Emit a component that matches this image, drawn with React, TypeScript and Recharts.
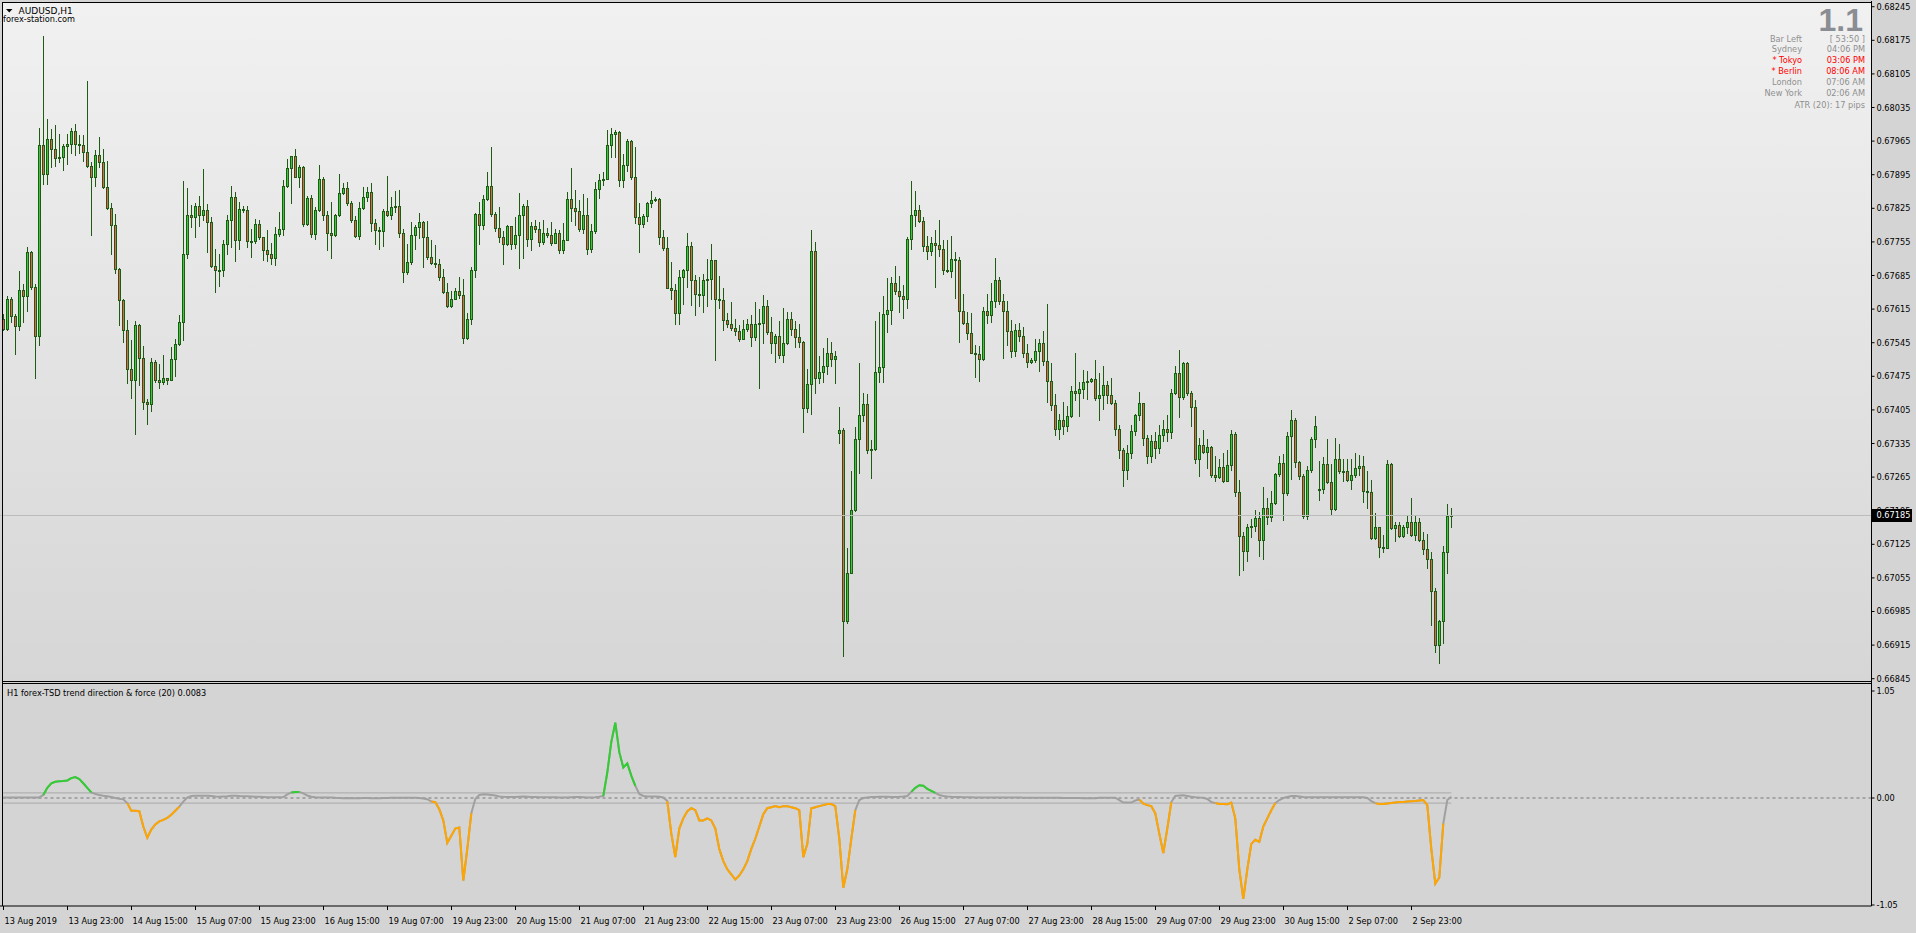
import React from 'react';
import { ComposedChart, Bar, Line, XAxis, YAxis, ReferenceLine } from 'recharts';

// ---------- DATA (prices in points, 1 point = 0.00001) ----------
const firstOpenPt = 67595;
const gapOpenPts: Record<number, number> = { 209: 67357, 329: 67239 };

const closePts = [
  67574, 67637, 67600, 67579, 67654, 67643, 67734, 67661, 67560, 67957,
  67897, 67970, 67949, 67930, 67932, 67954, 67959, 67987, 67959, 67957,
  67942, 67913, 67891, 67936, 67921, 67869, 67826, 67791, 67699, 67633,
  67572, 67491, 67468, 67581, 67514, 67421, 67418, 67505, 67468, 67464,
  67471, 67468, 67512, 67543, 67589, 67730, 67811, 67806, 67829, 67811,
  67822, 67797, 67705, 67697, 67696, 67751, 67801, 67848, 67759, 67824,
  67822, 67757, 67757, 67793, 67765, 67738, 67730, 67722, 67772, 67782,
  67872, 67909, 67933, 67891, 67911, 67793, 67847, 67772, 67822, 67886,
  67811, 67773, 67770, 67811, 67856, 67868, 67836, 67800, 67767, 67825,
  67848, 67859, 67795, 67780, 67777, 67819, 67811, 67827, 67829, 67774,
  67693, 67714, 67769, 67786, 67797, 67765, 67724, 67712, 67708, 67682,
  67650, 67622, 67637, 67652, 67645, 67554, 67595, 67697, 67813, 67791,
  67845, 67872, 67814, 67783, 67765, 67751, 67788, 67751, 67769, 67812,
  67829, 67762, 67789, 67782, 67754, 67774, 67770, 67752, 67774, 67739,
  67760, 67845, 67826, 67820, 67781, 67812, 67741, 67777, 67866, 67883,
  67887, 67956, 67979, 67983, 67885, 67916, 67966, 67890, 67806, 67793,
  67808, 67837, 67842, 67844, 67766, 67743, 67660, 67654, 67606, 67682,
  67696, 67747, 67676, 67647, 67645, 67675, 67677, 67717, 67637, 67633,
  67593, 67584, 67576, 67570, 67553, 67574, 67583, 67557, 67585, 67587,
  67621, 67567, 67545, 67560, 67520, 67545, 67595, 67574, 67556, 67547,
  67408, 67458, 67737, 67472, 67485, 67497, 67524, 67512, 67518, 67363,
  66966, 67066, 67196, 67345, 67395, 67418, 67322, 67324, 67485, 67495,
  67604, 67614, 67670, 67653, 67642, 67637, 67762, 67812, 67822, 67798,
  67747, 67736, 67753, 67749, 67741, 67697, 67695, 67720, 67718, 67611,
  67586, 67566, 67524, 67522, 67511, 67611, 67603, 67632, 67676, 67632,
  67611, 67570, 67528, 67572, 67559, 67524, 67505, 67509, 67528, 67545,
  67507, 67466, 67416, 67366, 67385, 67372, 67393, 67445, 67441, 67449,
  67464, 67466, 67470, 67430, 67437, 67457, 67437, 67420, 67366, 67321,
  67279, 67316, 67362, 67395, 67420, 67346, 67310, 67341, 67325, 67352,
  67366, 67358, 67441, 67482, 67432, 67502, 67441, 67411, 67302, 67331,
  67318, 67328, 67270, 67265, 67287, 67256, 67290, 67354, 67234, 67143,
  67111, 67160, 67164, 67179, 67134, 67201, 67182, 67212, 67272, 67295,
  67232, 67351, 67385, 67297, 67267, 67184, 67279, 67344, 67372, 67240,
  67293, 67255, 67198, 67302, 67278, 67277, 67260, 67270, 67283, 67289,
  67236, 67234, 67138, 67160, 67120, 67118, 67293, 67158, 67166, 67143,
  67162, 67172, 67145, 67172, 67133, 67116, 67095, 67027, 66916, 66965,
  67108, 67183, 67185,
];

const highPts = [
  67605, 67643, 67641, 67605, 67695, 67668, 67744, 67737, 67668, 67992,
  68183, 68011, 67990, 67999, 67979, 67959, 67980, 67992, 68001, 67977,
  67977, 68091, 67921, 67947, 67974, 67949, 67924, 67836, 67813, 67700,
  67636, 67593, 67550, 67591, 67584, 67539, 67428, 67513, 67509, 67501,
  67520, 67472, 67537, 67553, 67602, 67881, 67867, 67831, 67836, 67850,
  67906, 67833, 67806, 67741, 67730, 67759, 67811, 67872, 67859, 67838,
  67829, 67829, 67782, 67803, 67801, 67765, 67780, 67752, 67786, 67817,
  67883, 67928, 67935, 67949, 67916, 67914, 67850, 67852, 67827, 67916,
  67890, 67819, 67839, 67813, 67897, 67878, 67879, 67841, 67808, 67838,
  67869, 67869, 67878, 67803, 67786, 67824, 67893, 67848, 67862, 67863,
  67781, 67750, 67797, 67790, 67816, 67798, 67798, 67758, 67748, 67720,
  67698, 67670, 67652, 67659, 67681, 67677, 67606, 67703, 67815, 67838,
  67852, 67901, 67952, 67817, 67828, 67778, 67790, 67788, 67807, 67856,
  67833, 67842, 67797, 67800, 67797, 67800, 67783, 67796, 67781, 67779,
  67794, 67858, 67908, 67863, 67842, 67854, 67846, 67793, 67879, 67896,
  67901, 67988, 67993, 67989, 67986, 67938, 67969, 67967, 67953, 67836,
  67814, 67838, 67861, 67849, 67846, 67780, 67765, 67714, 67667, 67696,
  67698, 67773, 67755, 67687, 67682, 67688, 67719, 67750, 67717, 67683,
  67658, 67606, 67630, 67594, 67581, 67592, 67595, 67602, 67630, 67615,
  67644, 67635, 67598, 67564, 67590, 67617, 67608, 67610, 67590, 67585,
  67549, 67490, 67779, 67755, 67517, 67535, 67555, 67546, 67527, 67411,
  67368, 67118, 67277, 67370, 67503, 67440, 67438, 67343, 67590, 67610,
  67642, 67680, 67682, 67704, 67683, 67665, 67765, 67881, 67862, 67831,
  67807, 67768, 67766, 67779, 67800, 67759, 67759, 67768, 67733, 67723,
  67647, 67610, 67607, 67541, 67539, 67620, 67647, 67669, 67722, 67682,
  67647, 67631, 67593, 67584, 67586, 67577, 67543, 67514, 67552, 67552,
  67570, 67625, 67503, 67439, 67396, 67421, 67414, 67454, 67523, 67463,
  67489, 67487, 67472, 67508, 67482, 67496, 67466, 67471, 67425, 67373,
  67325, 67331, 67373, 67397, 67443, 67420, 67352, 67352, 67358, 67373,
  67383, 67394, 67448, 67496, 67529, 67505, 67505, 67444, 67425, 67347,
  67363, 67344, 67329, 67308, 67302, 67316, 67321, 67363, 67360, 67260,
  67150, 67168, 67177, 67196, 67192, 67244, 67221, 67236, 67274, 67308,
  67314, 67358, 67404, 67389, 67299, 67272, 67288, 67348, 67392, 67298,
  67306, 67344, 67292, 67347, 67333, 67302, 67302, 67302, 67316, 67312,
  67308, 67277, 67260, 67190, 67161, 67144, 67300, 67295, 67171, 67172,
  67165, 67186, 67221, 67184, 67179, 67151, 67146, 67109, 67034, 66967,
  67122, 67210, 67200,
];

const lowPts = [
  67572, 67572, 67588, 67522, 67572, 67588, 67611, 67657, 67472, 67541,
  67876, 67876, 67911, 67913, 67921, 67905, 67918, 67940, 67936, 67940,
  67923, 67911, 67770, 67871, 67911, 67868, 67824, 67730, 67690, 67582,
  67546, 67462, 67430, 67355, 67456, 67407, 67376, 67403, 67463, 67450,
  67458, 67459, 67470, 67475, 67541, 67551, 67721, 67786, 67765, 67788,
  67800, 67734, 67702, 67650, 67664, 67685, 67730, 67744, 67715, 67741,
  67817, 67745, 67723, 67752, 67761, 67718, 67716, 67709, 67706, 67768,
  67770, 67869, 67836, 67890, 67869, 67789, 67791, 67766, 67761, 67820,
  67800, 67739, 67721, 67768, 67808, 67855, 67831, 67796, 67765, 67761,
  67824, 67841, 67777, 67751, 67741, 67746, 67809, 67803, 67817, 67765,
  67672, 67689, 67710, 67741, 67764, 67703, 67719, 67710, 67703, 67675,
  67649, 67620, 67620, 67636, 67639, 67545, 67552, 67584, 67682, 67751,
  67782, 67843, 67810, 67778, 67755, 67709, 67748, 67741, 67743, 67701,
  67722, 67747, 67738, 67776, 67747, 67750, 67765, 67749, 67753, 67732,
  67732, 67758, 67799, 67790, 67778, 67774, 67730, 67734, 67774, 67847,
  67873, 67886, 67931, 67932, 67872, 67870, 67902, 67886, 67795, 67734,
  67786, 67799, 67828, 67840, 67750, 67738, 67658, 67637, 67585, 67585,
  67625, 67661, 67624, 67603, 67621, 67609, 67621, 67637, 67510, 67617,
  67572, 67578, 67572, 67562, 67549, 67560, 67569, 67538, 67551, 67451,
  67544, 67564, 67524, 67505, 67513, 67505, 67543, 67562, 67536, 67536,
  67359, 67401, 67397, 67441, 67462, 67463, 67479, 67497, 67462, 67336,
  66893, 66960, 67066, 67195, 67274, 67382, 67315, 67263, 67321, 67463,
  67463, 67567, 67585, 67647, 67609, 67597, 67617, 67740, 67788, 67796,
  67736, 67720, 67728, 67661, 67726, 67688, 67692, 67682, 67638, 67546,
  67584, 67553, 67523, 67473, 67465, 67508, 67586, 67588, 67619, 67626,
  67513, 67541, 67515, 67518, 67548, 67515, 67494, 67502, 67505, 67487,
  67498, 67421, 67405, 67352, 67345, 67355, 67362, 67390, 67425, 67392,
  67430, 67428, 67463, 67426, 67383, 67406, 67420, 67418, 67352, 67304,
  67246, 67262, 67304, 67352, 67383, 67331, 67294, 67296, 67304, 67316,
  67341, 67341, 67346, 67439, 67391, 67428, 67437, 67372, 67295, 67268,
  67315, 67284, 67266, 67257, 67263, 67255, 67276, 67279, 67226, 67061,
  67071, 67091, 67140, 67153, 67101, 67094, 67168, 67173, 67209, 67267,
  67176, 67227, 67262, 67286, 67261, 67180, 67177, 67276, 67328, 67217,
  67232, 67253, 67188, 67196, 67274, 67257, 67256, 67240, 67265, 67270,
  67213, 67201, 67136, 67135, 67099, 67109, 67118, 67156, 67132, 67140,
  67140, 67149, 67143, 67134, 67131, 67104, 67076, 66957, 66900, 66877,
  66920, 67066, 67161,
];

// forex-TSD trend direction & force (20)
const tsdValues = [
  0.004, 0.005, 0.005, 0.004, 0.004, 0.005, 0.005, 0.004, 0.005, 0.006,
  0.03, 0.10, 0.145, 0.16, 0.165, 0.167, 0.172, 0.195, 0.205, 0.185,
  0.145, 0.10, 0.055, 0.04, 0.03, 0.022, 0.018, 0.01, 0.0, -0.008,
  -0.013, -0.05, -0.124, -0.124, -0.13, -0.28, -0.39, -0.31, -0.26, -0.23,
  -0.215, -0.195, -0.165, -0.125, -0.085, -0.035, 0.005, 0.02, 0.022, 0.023,
  0.022, 0.022, 0.02, 0.015, 0.012, 0.015, 0.018, 0.022, 0.023, 0.02,
  0.018, 0.017, 0.015, 0.013, 0.012, 0.01, 0.008, 0.008, 0.008, 0.008,
  0.01, 0.035, 0.055, 0.058, 0.06, 0.045, 0.025, 0.012, 0.008, 0.006,
  0.006, 0.006, 0.005, 0.002, 0.0, -0.002, 0.0, -0.002, -0.003, -0.002,
  0.0, 0.0, -0.002, -0.003, -0.002, 0.0, 0.001, 0.002, 0.002, 0.003,
  0.003, 0.003, 0.003, 0.002, 0.0, -0.005, -0.012, -0.035, -0.04, -0.11,
  -0.22, -0.44, -0.37, -0.30, -0.29, -0.81, -0.50, -0.15, -0.01, 0.03,
  0.036, 0.035, 0.03, 0.025, 0.015, 0.012, 0.01, 0.01, 0.01, 0.012,
  0.014, 0.012, 0.01, 0.01, 0.008, 0.008, 0.008, 0.007, 0.007, 0.006,
  0.006, 0.006, 0.008, 0.01, 0.01, 0.008, 0.006, 0.006, 0.008, 0.012,
  0.02, 0.25, 0.55, 0.74, 0.45, 0.30, 0.34, 0.22, 0.12, 0.04,
  0.02, 0.015, 0.015, 0.015, 0.012, 0.005, -0.03, -0.35, -0.58, -0.30,
  -0.20, -0.13, -0.10, -0.12, -0.22, -0.22, -0.20, -0.22, -0.30, -0.50,
  -0.62, -0.70, -0.75, -0.80, -0.76, -0.70, -0.62, -0.50, -0.40, -0.28,
  -0.16, -0.10, -0.09, -0.08, -0.09, -0.08, -0.08, -0.09, -0.10, -0.12,
  -0.58, -0.45, -0.10, -0.09, -0.08, -0.07, -0.06, -0.06, -0.08, -0.40,
  -0.88, -0.70, -0.40, -0.12, -0.02, 0.0, 0.005, 0.01, 0.01, 0.012,
  0.012, 0.012, 0.01, 0.01, 0.012, 0.015, 0.02, 0.06, 0.10, 0.125,
  0.12, 0.09, 0.07, 0.05, 0.03, 0.02, 0.015, 0.012, 0.01, 0.01,
  0.008, 0.008, 0.008, 0.006, 0.006, 0.006, 0.006, 0.005, 0.005, 0.005,
  0.005, 0.004, 0.004, 0.004, 0.004, 0.003, 0.003, 0.003, 0.003, 0.003,
  0.002, 0.002, 0.002, 0.002, 0.002, 0.0, 0.0, 0.0, 0.0, 0.0,
  -0.002, -0.002, -0.003, -0.003, 0.003, 0.003, 0.003, 0.003, 0.003, -0.02,
  -0.045, -0.045, -0.045, -0.025, -0.015, -0.055, -0.07, -0.08, -0.15, -0.35,
  -0.54, -0.30, -0.04, 0.02, 0.025, 0.026, 0.02, 0.013, 0.008, 0.005,
  0.003, -0.01, -0.04, -0.05, -0.058, -0.06, -0.062, -0.045, -0.20, -0.70,
  -0.99, -0.70, -0.45, -0.41, -0.43, -0.28, -0.20, -0.12, -0.05, -0.02,
  0.0, 0.01, 0.02, 0.02, 0.015, 0.01, 0.007, 0.007, 0.007, 0.007,
  0.007, 0.007, 0.007, 0.007, 0.007, 0.007, 0.007, 0.007, 0.007, 0.007,
  0.007, 0.0, -0.03, -0.05, -0.06, -0.06, -0.055, -0.05, -0.045, -0.04,
  -0.04, -0.035, -0.032, -0.03, -0.025, -0.02, -0.07, -0.50, -0.84, -0.78,
  -0.25, -0.02, 0.013,
];
const tsdUpRanges: [number, number][] = [[10, 22], [72, 74], [150, 158], [227, 233]];
const tsdDownRanges: [number, number][] = [[31, 44], [107, 117], [166, 213], [284, 292], [303, 318], [343, 360]];
const tsdLevel = 0.05;

const priceTickLabels = [
  '0.68245', '0.68175', '0.68105', '0.68035', '0.67965', '0.67895', '0.67825',
  '0.67755', '0.67685', '0.67615', '0.67545', '0.67475', '0.67405', '0.67335',
  '0.67265', '0.67195', '0.67125', '0.67055', '0.66985', '0.66915', '0.66845',
];
const tsdTickLabels = ['1.05', '0.00', '-1.05'];

const xTickLabels = [
  '13 Aug 2019', '13 Aug 23:00', '14 Aug 15:00', '15 Aug 07:00', '15 Aug 23:00',
  '16 Aug 15:00', '19 Aug 07:00', '19 Aug 23:00', '20 Aug 15:00', '21 Aug 07:00',
  '21 Aug 23:00', '22 Aug 15:00', '23 Aug 07:00', '23 Aug 23:00', '26 Aug 15:00',
  '27 Aug 07:00', '27 Aug 23:00', '28 Aug 15:00', '29 Aug 07:00', '29 Aug 23:00',
  '30 Aug 15:00', '2 Sep 07:00', '2 Sep 23:00',
];
const X_TICK_STEP = 16;

const sessionNames = ['Sydney', '* Tokyo', '* Berlin', 'London', 'New York'];
const sessionTimes = ['04:06 PM', '03:06 PM', '08:06 AM', '07:06 AM', '02:06 AM'];
const sessionOpen = [false, true, true, false, false];

// ---------- LAYOUT / STYLE ----------
const PT = 0.00001;
const SLOTS = 467;
const PAD = { left: 1.3, right: 2.2 };
const AXIS_W = 44.5;
const W = 1916;
const PMIN = 0.668402;
const PMAX = 0.682569;
const TMIN = -1.0598;
const TMAX = 1.1187;
const FONT = 'DejaVu Sans';
const FS = 8.2;
const WICK = '#1E5C14';
const BULL = '#3CC83C';
const BEAR = '#E0674A';

const lastPrice = closePts[closePts.length - 1] * PT;

const candleRows = Array.from({ length: SLOTS }, (_, i) => {
  if (i >= closePts.length) return { i };
  const o = i === 0 ? firstOpenPt : (gapOpenPts[i] ?? closePts[i - 1]);
  const c = closePts[i];
  const h = Math.max(highPts[i], o, c);
  const l = Math.min(lowPts[i], o, c);
  return { i, open: o * PT, close: c * PT, range: [l * PT, h * PT] };
});

const inRanges = (i: number, rs: [number, number][]) => rs.some(([a, b]) => i >= a && i <= b);
const tsdRows = Array.from({ length: SLOTS }, (_, i) => {
  if (i >= tsdValues.length) return { i };
  const v = tsdValues[i];
  return {
    i,
    tsd: v,
    up: inRanges(i, tsdUpRanges) ? v : null,
    dn: inRanges(i, tsdDownRanges) ? v : null,
  };
});

const priceTicks = [...priceTickLabels.map(Number), lastPrice];
const tsdTicks = tsdTickLabels.map(Number);
const xTickIdx = xTickLabels.map((_, j) => j * X_TICK_STEP);
const lastIdx = tsdValues.length - 1;

function Candle(props: any) {
  const { x, y, width, height, payload } = props;
  if (!payload || !payload.range || height == null || isNaN(y)) return null;
  const [lo, hi] = payload.range;
  const span = hi - lo;
  const toY = (v: number) => (span > 0 ? y + ((hi - v) / span) * height : y);
  const cx = Math.floor(x + width / 2) + 0.5;
  const yo = toY(payload.open);
  const yc = toY(payload.close);
  const top = Math.round(Math.min(yo, yc));
  const bot = Math.round(Math.max(yo, yc));
  const up = payload.close >= payload.open;
  return (
    <g>
      <line x1={cx} x2={cx} y1={Math.round(y)} y2={Math.round(y + height) + 1} stroke={WICK} strokeWidth={1} />
      <rect x={cx - 1} y={top + 0.5} width={2} height={Math.max(bot - top, 1)} fill={up ? BULL : BEAR} stroke={WICK} strokeWidth={1} />
    </g>
  );
}

function PriceTick(props: any) {
  const { x, y, payload } = props;
  const v = payload.value as number;
  if (Math.abs(v - lastPrice) < 1e-9) {
    return (
      <g>
        <rect x={x - 4.5} y={y - 6.5} width={40} height={13} fill="#000" />
        <text x={x} y={y + 3} fontSize={FS} fontFamily={FONT} fill="#fff">{v.toFixed(5)}</text>
      </g>
    );
  }
  return <text x={x} y={y + 3} fontSize={FS} fontFamily={FONT} fill="#000">{v.toFixed(5)}</text>;
}

function TsdTick(props: any) {
  const { x, y, payload } = props;
  const idx = tsdTicks.indexOf(payload.value);
  return <text x={x} y={y + 3} fontSize={FS} fontFamily={FONT} fill="#000">{tsdTickLabels[idx] ?? ''}</text>;
}

function TimeTick(props: any) {
  const { x, y, payload } = props;
  const j = xTickIdx.indexOf(payload.value);
  if (j < 0) return null;
  const px = Math.floor(x) + 0.5;
  return (
    <g>
      <line x1={px} x2={px} y1={y} y2={y + 4} stroke="#000" strokeWidth={1} />
      <text x={px + 1} y={y + 18} fontSize={FS} fontFamily={FONT} fill="#000">{xTickLabels[j]}</text>
    </g>
  );
}

function MainChart() {
  return (
    <ComposedChart width={W} height={683} data={candleRows} margin={{ top: 1, right: 0, bottom: 2, left: 0 }}>
      <XAxis dataKey="i" type="category" scale="band" hide height={0} padding={PAD} />
      <YAxis
        orientation="right"
        width={AXIS_W}
        type="number"
        domain={[PMIN, PMAX]}
        allowDataOverflow
        ticks={priceTicks}
        interval={0}
        tick={<PriceTick />}
        tickSize={3}
        tickMargin={2}
        axisLine={{ stroke: '#000' }}
        tickLine={{ stroke: '#000' }}
      />
      <ReferenceLine y={lastPrice} stroke="#BDBDBD" strokeWidth={1} />
      <Bar dataKey="range" barSize={3} isAnimationActive={false} shape={(p: any) => <Candle {...p} />} />
    </ComposedChart>
  );
}

function IndicatorChart() {
  return (
    <ComposedChart width={W} height={249} data={tsdRows} margin={{ top: 0, right: 0, bottom: 0, left: 0 }}>
      <XAxis
        dataKey="i"
        type="category"
        scale="band"
        padding={PAD}
        height={27}
        ticks={xTickIdx}
        interval={0}
        tick={<TimeTick />}
        tickLine={false}
        tickSize={0}
        tickMargin={0}
        axisLine={{ stroke: '#000' }}
      />
      <YAxis
        orientation="right"
        width={AXIS_W}
        type="number"
        domain={[TMIN, TMAX]}
        allowDataOverflow
        ticks={tsdTicks}
        interval={0}
        tick={<TsdTick />}
        tickSize={3}
        tickMargin={2}
        axisLine={{ stroke: '#000' }}
        tickLine={{ stroke: '#000' }}
      />
      <ReferenceLine y={0} stroke="#777" strokeDasharray="3 3" />
      <ReferenceLine segment={[{ x: 0, y: tsdLevel }, { x: lastIdx, y: tsdLevel }]} stroke="#A8A8A8" strokeWidth={1} />
      <ReferenceLine segment={[{ x: 0, y: -tsdLevel }, { x: lastIdx, y: -tsdLevel }]} stroke="#A8A8A8" strokeWidth={1} />
      <Line dataKey="tsd" type="linear" stroke="#A0A0A0" strokeWidth={2} dot={false} isAnimationActive={false} />
      <Line dataKey="up" type="linear" stroke="#32CD32" strokeWidth={2} dot={false} isAnimationActive={false} />
      <Line dataKey="dn" type="linear" stroke="#FFA500" strokeWidth={2} dot={false} isAnimationActive={false} />
    </ComposedChart>
  );
}

export default function App() {
  const rowY = [41.5, 52.4, 63.3, 74.2, 85.1, 96.0];
  return (
    <div style={{ position: 'absolute', left: 0, top: 0, width: W, height: 933, background: '#D4D4D4', overflow: 'hidden' }}>
      <div style={{ position: 'absolute', left: 3, top: 3, width: 1868, height: 678, background: 'linear-gradient(#F1F1F1, #D6D6D6)' }} />
      <div style={{ position: 'absolute', left: 0, top: 0 }}>
        <MainChart />
      </div>
      <div style={{ position: 'absolute', left: 0, top: 684 }}>
        <IndicatorChart />
      </div>
      <svg width={W} height={933} style={{ position: 'absolute', left: 0, top: 0, pointerEvents: 'none' }}>
        <line x1={2.5} x2={2.5} y1={2} y2={906} stroke="#000" />
        <line x1={2} x2={1872} y1={2.5} y2={2.5} stroke="#000" />
        <line x1={2} x2={1872} y1={681.5} y2={681.5} stroke="#000" />
        <line x1={2} x2={1872} y1={683.5} y2={683.5} stroke="#000" />
        <line x1={1871.5} x2={1871.5} y1={2} y2={906} stroke="#000" />
        <polygon points="6,9 12.5,9 9.25,12.5" fill="#000" />
        <text x={18.5} y={14.3} fontSize={9} fontFamily={FONT} fill="#000">AUDUSD,H1</text>
        <text x={3} y={21.5} fontSize={FS} fontFamily={FONT} fill="#000">forex-station.com</text>
        <text x={1863} y={31} fontSize={32} fontWeight="bold" fontFamily="Liberation Sans" fill="#8A8D93" textAnchor="end">1.1</text>
        <text x={1802} y={rowY[0]} fontSize={FS} fontFamily={FONT} fill="#8F8F8F" textAnchor="end">Bar Left</text>
        <text x={1865} y={rowY[0]} fontSize={FS} fontFamily={FONT} fill="#8F8F8F" textAnchor="end">[ 53:50 ]</text>
        {sessionNames.map((n, j) => (
          <g key={n}>
            <text x={1802} y={rowY[j + 1]} fontSize={FS} fontFamily={FONT} fill={sessionOpen[j] ? '#FF0000' : '#8F8F8F'} textAnchor="end">{n}</text>
            <text x={1865} y={rowY[j + 1]} fontSize={FS} fontFamily={FONT} fill={sessionOpen[j] ? '#FF0000' : '#8F8F8F'} textAnchor="end">{sessionTimes[j]}</text>
          </g>
        ))}
        <text x={1865} y={107.5} fontSize={FS} fontFamily={FONT} fill="#8F8F8F" textAnchor="end">ATR (20): 17 pips</text>
        <text x={7} y={695.5} fontSize={FS} fontFamily={FONT} fill="#000">H1 forex-TSD trend direction &amp; force (20) 0.0083</text>
      </svg>
    </div>
  );
}
